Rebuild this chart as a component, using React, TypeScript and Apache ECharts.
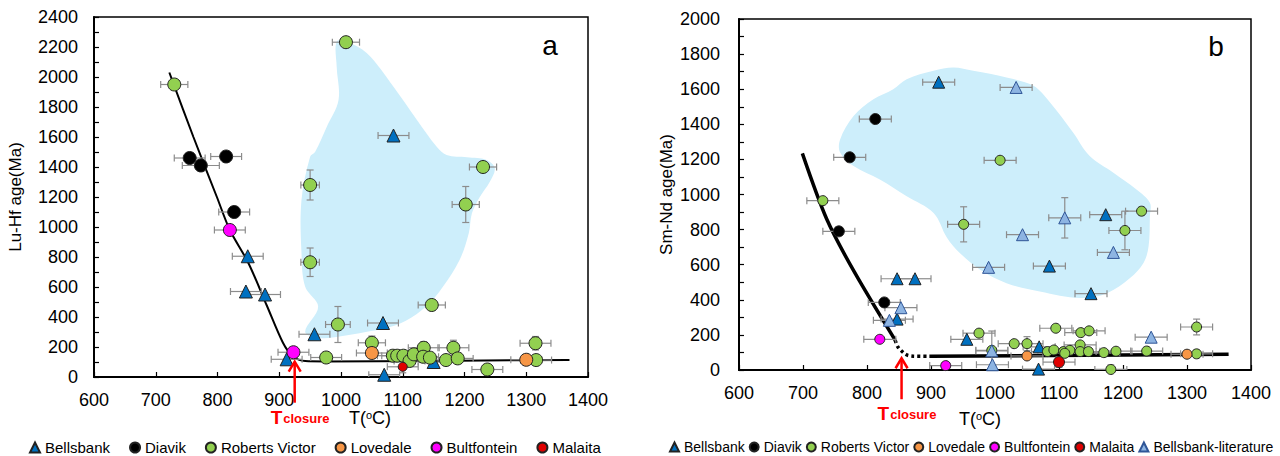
import React, { useEffect, useRef } from "react";
import * as echarts from "echarts";

const FONT = "'Liberation Sans', Arial, sans-serif";

// ---- axes ----
const xMin = 600;
const xMax = 1400;
const xStep = 100;
const yStep = 200;
const yMaxLuHf = 2400;
const yMaxSmNd = 2000;

const seriesNames = ["Bellsbank", "Diavik", "Roberts Victor", "Lovedale", "Bultfontein", "Malaita", "Bellsbank-literature"];

// ---- panel a: Lu-Hf  [T, age, xErr?, yErr?] ----
const luhfBellsbank = [[849, 805], [846, 570], [877, 550], [912, 118], [957, 285], [1085, 1610], [1068, 360], [1070, 15], [1150, 100]];
const luhfDiavik = [[755, 1460], [773, 1410, 30], [814, 1470], [827, 1100]];
const luhfRobertsVictor = [
  [730, 1950, 22], [1008, 2232, 22], [950, 1280, 15, 100], [950, 765, 15, 95], [995, 350, 20, 120],
  [1147, 480, 22], [1230, 1400, 22], [1202, 1150, 22, 120], [976, 130], [1050, 228, 22, 45],
  [1084, 142], [1091, 142], [1101, 142], [1111, 107], [1118, 151], [1134, 195, 25, 40], [1133, 135],
  [1144, 129], [1170, 113], [1182, 195, 25, 50], [1189, 124], [1237, 50], [1315, 225, 25, 45], [1316, 113],
];
const luhfLovedale = [[1050, 160], [1300, 115]];
const luhfBultfontein = [[820, 980], [923, 165]];
const luhfMalaita = [[1100, 68, 25, 40]];
const luhfFit = [[722, 2030], [761, 1600], [799, 1200], [820, 980], [850, 760], [880, 475], [906, 228], [922, 138], [942, 106], [975, 104], [1370, 114]];
const luhfRegion = [
  [993, 2235], [1009, 2235], [1042, 2158], [1085, 1935], [1123, 1713], [1155, 1535], [1171, 1480], [1204, 1465],
  [1236, 1447], [1249, 1391], [1241, 1302], [1225, 1202], [1212, 1091], [1207, 960], [1192, 780], [1165, 602],
  [1139, 475], [1105, 375], [1074, 326], [1040, 300], [1000, 272], [966, 260], [942, 300], [963, 469],
  [942, 602], [936, 827], [936, 1180], [950, 1469], [958, 1500], [977, 1669], [996, 1847], [993, 2069],
];
const luhfClosure = [[925, 102]];

// ---- panel b: Sm-Nd ----
const smndBellsbank = [[912, 1640], [847, 520], [875, 520], [847, 290], [956, 175], [1069, 132], [1068, 5], [1150, 435], [1085, 592], [1173, 885]];
const smndDiavik = [[813, 1430], [773, 1212], [756, 790], [827, 385]];
const smndRobertsVictor = [
  [731, 965], [1008, 1195], [951, 830, 25, 100], [1229, 905], [1203, 795, 25, 110], [1315, 245, 25, 45],
  [975, 210], [1095, 238], [1134, 213], [1147, 223], [1030, 150], [1050, 150, 25, 40], [995, 112, 25, 110],
  [1133, 143], [1082, 105], [1092, 114], [1107, 105], [1117, 112], [1109, 95], [1133, 105], [1146, 105],
  [1170, 99], [1189, 107], [1237, 108], [1315, 92], [1181, 3, 25, 25],
];
const smndLovedale = [[1050, 80], [1300, 90]];
const smndBultfontein = [[820, 175], [923, 25]];
const smndMalaita = [[1100, 45, 25, 30]];
const smndBellsbankLit = [[1033, 1610], [1109, 867, 25, 115], [1043, 771], [990, 585], [1185, 670], [1244, 187], [995, 109], [996, 30], [853, 355], [835, 283]];
const smndFit = [[699, 1234], [737, 860], [780, 560], [844, 170]];
const smndFitDotted = [[844, 170], [848, 133], [854, 108], [862, 86], [872, 79], [900, 78]];
const smndFitFlat = [[900, 78], [1365, 90]];
const smndRegion = [
  [758, 1314], [779, 1447], [810, 1543], [841, 1600], [862, 1657], [904, 1705], [935, 1724], [966, 1705],
  [1018, 1667], [1060, 1619], [1086, 1524], [1122, 1353], [1148, 1219], [1185, 1124], [1221, 1029], [1242, 953],
  [1242, 876], [1240, 705], [1232, 610], [1211, 524], [1175, 438], [1133, 410], [1070, 447], [1018, 495],
  [977, 571], [945, 667], [925, 754], [904, 895], [862, 990], [820, 1086], [779, 1162], [758, 1240],
];
const smndClosure = [[854, 67]];

const colors: Record<string, string> = {
  Bellsbank: "#0070c0",
  Diavik: "#000000",
  "Roberts Victor": "#92d050",
  Lovedale: "#f79646",
  Bultfontein: "#ff00ff",
  Malaita: "#e00000",
  "Bellsbank-literature": "#8db4e2",
};

const withErr = (pts: number[][]) => pts.map((p) => [p[0], p[1], p[2] ?? 25, p[3] ?? 0]);

function errorSeries(idx: number, groups: number[][][]) {
  const data = groups.flatMap((g) => withErr(g));
  return {
    type: "custom",
    xAxisIndex: idx,
    yAxisIndex: idx,
    silent: true,
    z: 3,
    clip: true,
    data,
    encode: { x: 0, y: 1 },
    renderItem: (_params: any, api: any) => {
      const x = api.value(0);
      const y = api.value(1);
      const ex = api.value(2);
      const ey = api.value(3);
      const c = api.coord([x, y]);
      const l = api.coord([x - ex, y]);
      const r = api.coord([x + ex, y]);
      const st = { stroke: "#8c8c8c", lineWidth: 1.2 };
      const children: any[] = [
        { type: "line", shape: { x1: l[0], y1: c[1], x2: r[0], y2: c[1] }, style: st },
        { type: "line", shape: { x1: l[0], y1: c[1] - 3.5, x2: l[0], y2: c[1] + 3.5 }, style: st },
        { type: "line", shape: { x1: r[0], y1: c[1] - 3.5, x2: r[0], y2: c[1] + 3.5 }, style: st },
      ];
      if (ey > 0) {
        const t = api.coord([x, y + ey]);
        const b = api.coord([x, y - ey]);
        children.push(
          { type: "line", shape: { x1: c[0], y1: t[1], x2: c[0], y2: b[1] }, style: st },
          { type: "line", shape: { x1: c[0] - 3.5, y1: t[1], x2: c[0] + 3.5, y2: t[1] }, style: st },
          { type: "line", shape: { x1: c[0] - 3.5, y1: b[1], x2: c[0] + 3.5, y2: b[1] }, style: st }
        );
      }
      return { type: "group", children };
    },
  };
}

function regionSeries(idx: number, outline: number[][]) {
  return {
    type: "custom",
    xAxisIndex: idx,
    yAxisIndex: idx,
    silent: true,
    z: 1,
    clip: true,
    data: outline,
    encode: { x: 0, y: 1 },
    renderItem: (params: any, api: any) => {
      if (params.dataIndex !== 0) return null;
      const points = outline.map((p) => api.coord(p));
      return { type: "polygon", shape: { points, smooth: 0.35 }, style: { fill: "#cdeefb", stroke: null } };
    },
  };
}

function closureSeries(idx: number, pt: number[][]) {
  return {
    type: "custom",
    xAxisIndex: idx,
    yAxisIndex: idx,
    silent: true,
    z: 6,
    clip: false,
    data: pt,
    encode: { x: 0, y: 1 },
    renderItem: (_params: any, api: any) => {
      const p = api.coord([api.value(0), api.value(1)]);
      const red = "#ff0000";
      return {
        type: "group",
        children: [
          { type: "line", shape: { x1: p[0], y1: p[1] + 2, x2: p[0], y2: p[1] + 41 }, style: { stroke: red, lineWidth: 2.5 } },
          { type: "polyline", shape: { points: [[p[0] - 6, p[1] + 10], [p[0], p[1]], [p[0] + 6, p[1] + 10]] }, style: { stroke: red, lineWidth: 2.5, fill: null } },
          {
            type: "text",
            x: p[0] - 24,
            y: p[1] + 46,
            style: {
              text: "{t|T}{s|closure}",
              align: "left",
              verticalAlign: "top",
              rich: {
                t: { fontSize: 19, fontWeight: "bold", fill: red, color: red, fontFamily: FONT, lineHeight: 17, verticalAlign: "top" },
                s: { fontSize: 13, fontWeight: "bold", fill: red, color: red, fontFamily: FONT, lineHeight: 13, padding: [6, 0, 0, 1], verticalAlign: "bottom" },
              },
            },
          },
        ],
      };
    },
  };
}

function scatter(idx: number, name: string, pts: number[][], size: number, symbol = "circle") {
  return {
    type: "scatter",
    name,
    xAxisIndex: idx,
    yAxisIndex: idx,
    silent: true,
    z: 4,
    symbol,
    symbolSize: symbol === "triangle" ? size + 1 : size,
    data: pts.map((p) => [p[0], p[1]]),
    itemStyle: { color: colors[name], borderColor: name === "Bellsbank-literature" ? "#2f5597" : "#222", borderWidth: 1, opacity: 1 },
  };
}

function lineSeries(idx: number, data: number[][], width: number, type: any = "solid") {
  return {
    type: "line",
    xAxisIndex: idx,
    yAxisIndex: idx,
    silent: true,
    z: 2,
    data,
    smooth: 0.3,
    symbol: "none",
    lineStyle: { color: "#000", width, type },
  };
}

const plain = (v: number) => String(v);

function xAxis(idx: number, margin: number) {
  return {
    type: "value",
    gridIndex: idx,
    min: xMin,
    max: xMax,
    interval: xStep,
    axisLine: { show: true, onZero: false, lineStyle: { color: "#000", width: 2 } },
    axisTick: { show: true, inside: true, length: 5, lineStyle: { color: "#000", width: 1.2 } },
    axisLabel: { fontSize: 18, color: "#000", margin, fontFamily: FONT, formatter: plain },
    splitLine: { show: false },
  };
}

function yAxis(idx: number, max: number, name: string, gap: number, margin: number) {
  return {
    type: "value",
    gridIndex: idx,
    min: 0,
    max,
    interval: yStep,
    name,
    nameLocation: "middle",
    nameGap: gap,
    nameRotate: 90,
    nameTextStyle: { fontSize: 17, color: "#000", fontFamily: FONT },
    axisLine: { show: true, onZero: false, lineStyle: { color: "#000", width: 2 } },
    axisTick: { show: true, inside: true, length: 5, lineStyle: { color: "#000", width: 1.2 } },
    minorTick: { show: true, splitNumber: 2, length: 5, lineStyle: { color: "#000", width: 1.2 } },
    axisLabel: { fontSize: 18, color: "#000", margin, fontFamily: FONT, formatter: plain },
    splitLine: { show: false },
  };
}

const legendData = (names: string[]) =>
  names.map((n) => ({ name: n, icon: n.startsWith("Bellsbank") ? "triangle" : "circle" }));

export default function App() {
  const ref = useRef<HTMLDivElement>(null);
  useEffect(() => {
    if (!ref.current) return;
    const chart = echarts.init(ref.current, undefined, { renderer: "svg" });
    const tTitle = (x: number, y: number) => ({
      type: "text",
      x,
      y,
      style: {
        text: "{a|T(}{b|o}{a|C)}",
        align: "center",
        verticalAlign: "middle",
        rich: {
          a: { fontSize: 18, lineHeight: 18, fontFamily: FONT, fill: "#000", color: "#000" },
          b: { fontSize: 11, lineHeight: 11, fontFamily: FONT, fill: "#000", color: "#000", verticalAlign: "top" },
        },
      },
    });
    chart.setOption({
      animation: false,
      textStyle: { fontFamily: FONT },
      grid: [
        { left: 94, top: 17, width: 494, height: 360, show: true, borderColor: "#000", borderWidth: 1.5, backgroundColor: "transparent" },
        { left: 739, top: 19, width: 512, height: 351, show: true, borderColor: "#000", borderWidth: 1.5, backgroundColor: "transparent" },
      ],
      xAxis: [xAxis(0, 14), xAxis(1, 14)],
      yAxis: [yAxis(0, yMaxLuHf, "Lu-Hf age(Ma)", 70, 16), yAxis(1, yMaxSmNd, "Sm-Nd age(Ma)", 64, 19)],
      legend: [
        {
          left: 24,
          top: 435,
          width: 600,
          itemGap: 19,
          itemWidth: 10,
          itemHeight: 10,
          selectedMode: false,
          textStyle: { fontSize: 15, color: "#000", fontFamily: FONT },
          data: legendData(seriesNames.slice(0, 6)),
        },
        {
          left: 664,
          top: 435,
          width: 616,
          itemGap: 4,
          itemWidth: 9,
          itemHeight: 9,
          selectedMode: false,
          textStyle: { fontSize: 14, color: "#000", fontFamily: FONT },
          data: legendData(seriesNames),
        },
      ],
      graphic: [
        { type: "text", x: 550, y: 45, style: { text: "a", fontSize: 28, fill: "#000", fontFamily: FONT, align: "center", verticalAlign: "middle" } },
        { type: "text", x: 1216, y: 46, style: { text: "b", fontSize: 28, fill: "#000", fontFamily: FONT, align: "center", verticalAlign: "middle" } },
        tTitle(370, 418),
        tTitle(980, 419),
      ],
      series: [
        regionSeries(0, luhfRegion),
        lineSeries(0, luhfFit, 2),
        errorSeries(0, [luhfBellsbank, luhfDiavik, luhfRobertsVictor, luhfLovedale, luhfBultfontein, luhfMalaita]),
        scatter(0, "Bellsbank", luhfBellsbank, 12, "triangle"),
        scatter(0, "Diavik", luhfDiavik, 13),
        scatter(0, "Roberts Victor", luhfRobertsVictor, 13),
        scatter(0, "Lovedale", luhfLovedale, 13),
        scatter(0, "Bultfontein", luhfBultfontein, 13),
        scatter(0, "Malaita", luhfMalaita, 9),
        closureSeries(0, luhfClosure),

        regionSeries(1, smndRegion),
        lineSeries(1, smndFit, 3.5),
        lineSeries(1, smndFitDotted, 3.5, [3, 3]),
        lineSeries(1, smndFitFlat, 3.5),
        errorSeries(1, [smndBellsbank, smndDiavik, smndRobertsVictor, smndLovedale, smndBultfontein, smndMalaita, smndBellsbankLit]),
        scatter(1, "Bellsbank", smndBellsbank, 11, "triangle"),
        scatter(1, "Diavik", smndDiavik, 11),
        scatter(1, "Roberts Victor", smndRobertsVictor, 10),
        scatter(1, "Lovedale", smndLovedale, 10),
        scatter(1, "Bultfontein", smndBultfontein, 10),
        scatter(1, "Malaita", smndMalaita, 11),
        scatter(1, "Bellsbank-literature", smndBellsbankLit, 11, "triangle"),
        closureSeries(1, smndClosure),
      ],
    });
    return () => chart.dispose();
  }, []);
  return <div ref={ref} style={{ position: "absolute", left: 0, top: 0, width: 1280, height: 456 }} />;
}
